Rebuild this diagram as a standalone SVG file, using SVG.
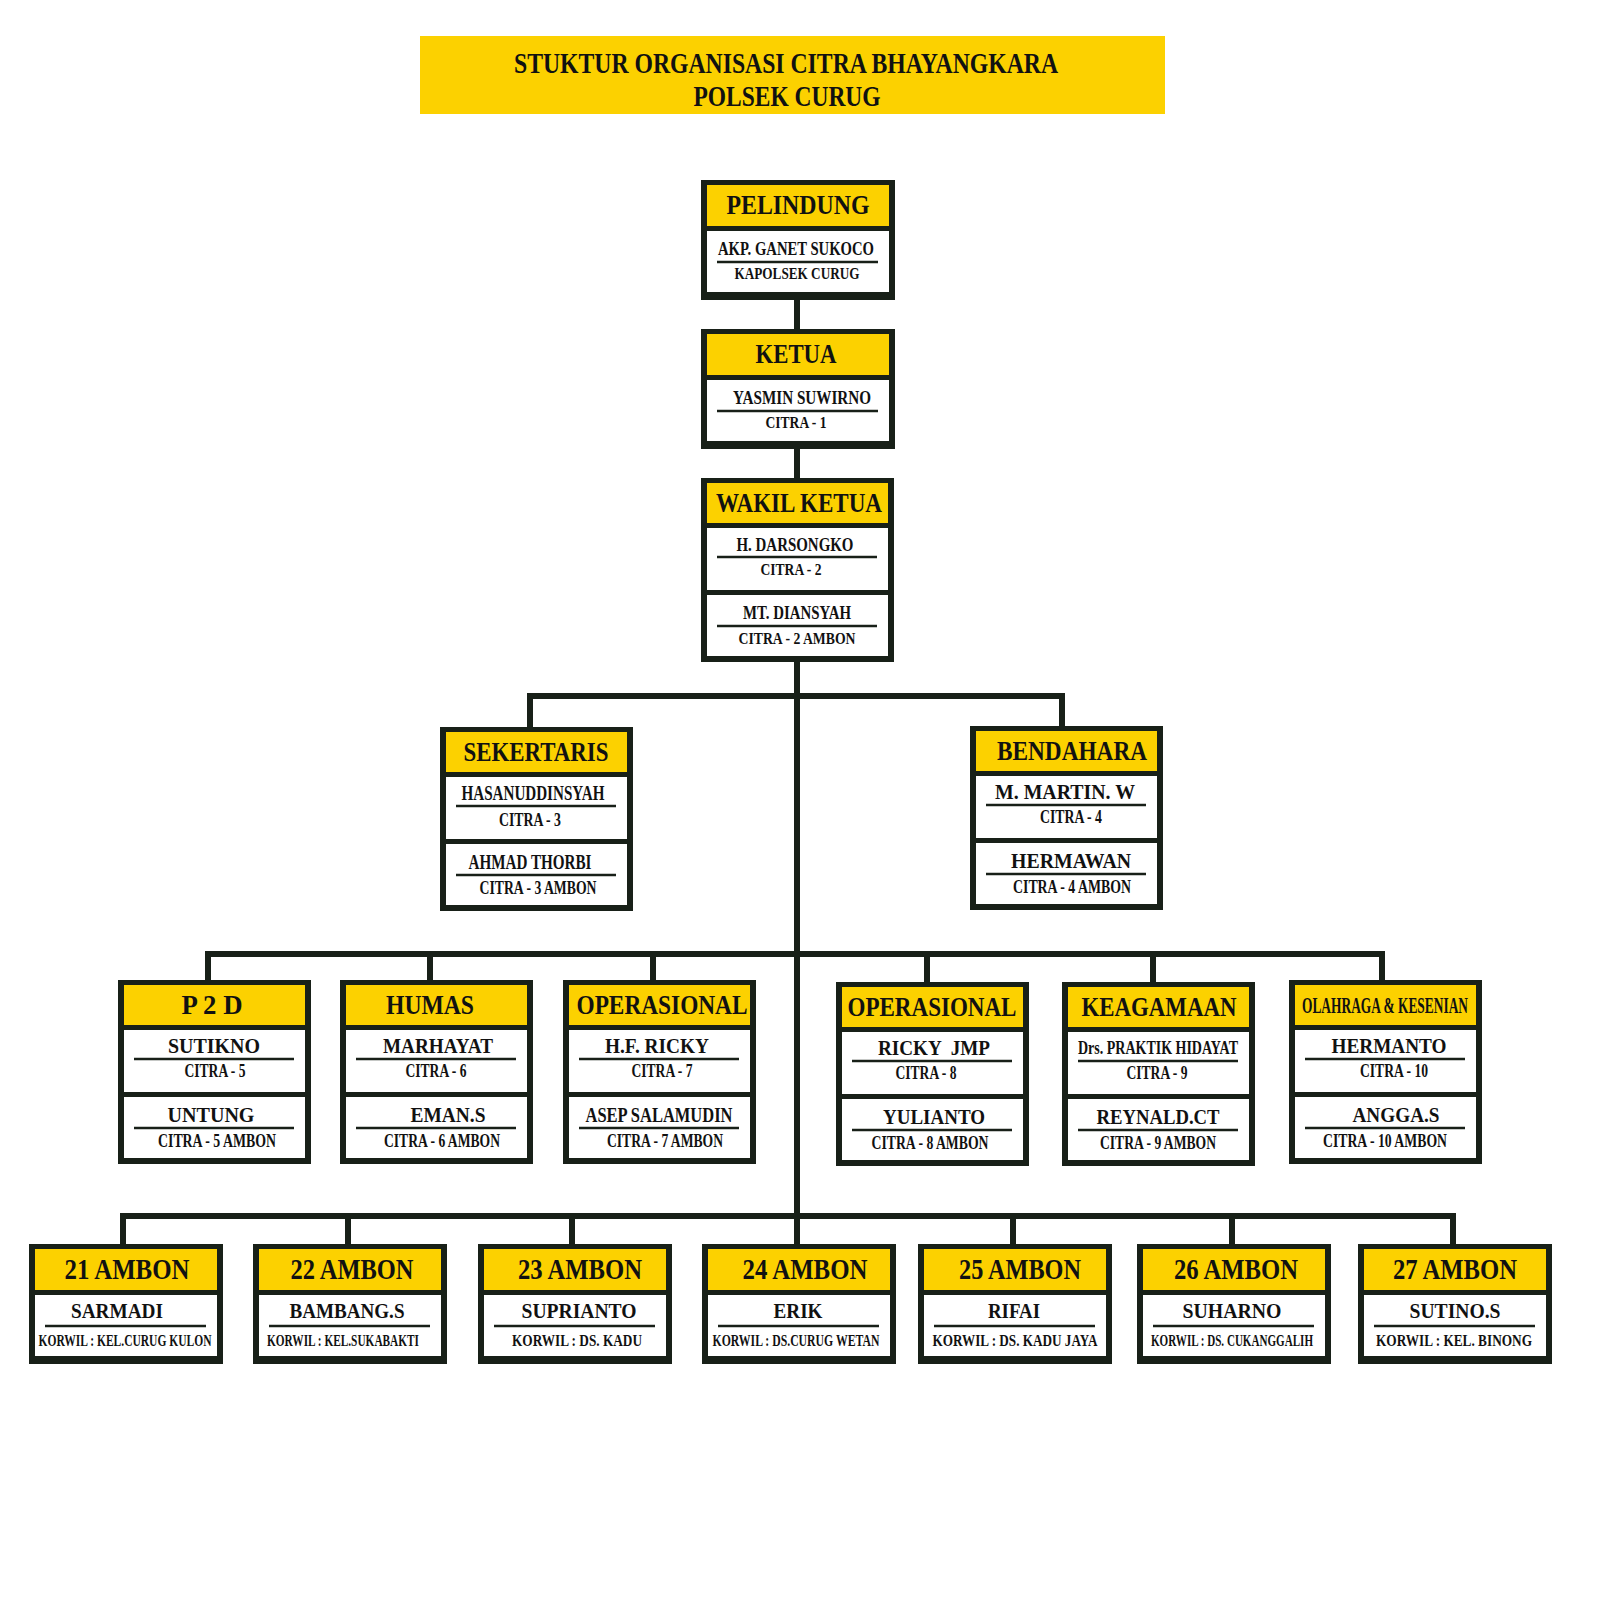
<svg xmlns="http://www.w3.org/2000/svg" width="1600" height="1600" viewBox="0 0 1600 1600">
<style>
.ob{fill:#182018}
.hd{fill:#fcd100}
.wt{fill:#ffffff}
.ul{stroke:#182018;stroke-width:2.5}
.cn{stroke:#182018;stroke-width:6;fill:none;stroke-linecap:square}
text{font-family:"Liberation Serif","Times New Roman",serif;font-weight:bold;fill:#111;text-anchor:middle}
.t{font-size:30px}
.h{font-size:28px}
.hb{font-size:29px}
.h2{font-size:23px}
.n{font-size:19px}
.s{font-size:16px}
.n2{font-size:21px}
.nb{font-size:20px}
.s2{font-size:18px}
.k{font-size:17px}
</style>
<rect width="1600" height="1600" fill="#ffffff"/>
<g id="title">
<rect x="420" y="36" width="745" height="78" fill="#fcd100"/>
<text class="t" x="786" y="73" textLength="544" lengthAdjust="spacingAndGlyphs">STUKTUR ORGANISASI CITRA BHAYANGKARA</text>
<text class="t" x="787" y="106" textLength="187" lengthAdjust="spacingAndGlyphs">POLSEK CURUG</text>
</g>
<g id="connectors">
<line class="cn" x1="797" y1="300" x2="797" y2="329"/>
<line class="cn" x1="797" y1="449" x2="797" y2="478"/>
<line class="cn" x1="797" y1="663" x2="797" y2="1216"/>
<polyline class="cn" points="530,727 530,696 1062,696 1062,726"/>
<line class="cn" x1="208" y1="954" x2="1382" y2="954"/>
<line class="cn" x1="208" y1="954" x2="208" y2="980"/>
<line class="cn" x1="430" y1="954" x2="430" y2="980"/>
<line class="cn" x1="653" y1="954" x2="653" y2="980"/>
<line class="cn" x1="927" y1="954" x2="927" y2="982"/>
<line class="cn" x1="1153" y1="954" x2="1153" y2="982"/>
<line class="cn" x1="1382" y1="954" x2="1382" y2="980"/>
<line class="cn" x1="123" y1="1216" x2="1453" y2="1216"/>
<line class="cn" x1="123" y1="1216" x2="123" y2="1244"/>
<line class="cn" x1="348" y1="1216" x2="348" y2="1244"/>
<line class="cn" x1="572" y1="1216" x2="572" y2="1244"/>
<line class="cn" x1="797" y1="1216" x2="797" y2="1244"/>
<line class="cn" x1="1013" y1="1216" x2="1013" y2="1244"/>
<line class="cn" x1="1232" y1="1216" x2="1232" y2="1244"/>
<line class="cn" x1="1453" y1="1216" x2="1453" y2="1244"/>
</g>
<defs>
<g id="boxA">
<rect class="ob" width="194" height="120"/>
<rect class="hd" x="6" y="5" width="182" height="41"/>
<rect class="wt" x="6" y="51" width="182" height="61"/>
<line class="ul" x1="16" x2="177" y1="82" y2="82"/>
</g>
<g id="boxB">
<rect class="ob" width="193" height="184"/>
<rect class="hd" x="6" y="5" width="181" height="40"/>
<rect class="wt" x="6" y="50" width="181" height="62"/>
<rect class="wt" x="6" y="117" width="181" height="61"/>
<line class="ul" x1="16" x2="176" y1="79" y2="79"/>
<line class="ul" x1="16" x2="176" y1="148" y2="148"/>
</g>
</defs>
<g id="pelindung" transform="translate(701,180)">
<use href="#boxA"/>
<text class="h" x="97" y="34" textLength="143" lengthAdjust="spacingAndGlyphs">PELINDUNG</text>
<text class="n" x="95" y="75" textLength="156" lengthAdjust="spacingAndGlyphs">AKP. GANET SUKOCO</text>
<text class="s" x="96" y="99" textLength="125" lengthAdjust="spacingAndGlyphs">KAPOLSEK CURUG</text>
</g>
<g id="ketua" transform="translate(701,329)">
<use href="#boxA"/>
<text class="h" x="95" y="34" textLength="81" lengthAdjust="spacingAndGlyphs">KETUA</text>
<text class="n" x="101" y="75" textLength="138" lengthAdjust="spacingAndGlyphs">YASMIN SUWIRNO</text>
<text class="s" x="95" y="99" textLength="61" lengthAdjust="spacingAndGlyphs">CITRA - 1</text>
</g>
<g id="wakil" transform="translate(701,478)">
<use href="#boxB"/>
<text class="h" x="98" y="34" textLength="166" lengthAdjust="spacingAndGlyphs">WAKIL KETUA</text>
<text class="n" x="94" y="73" textLength="117" lengthAdjust="spacingAndGlyphs">H. DARSONGKO</text>
<text class="s" x="90" y="97" textLength="61" lengthAdjust="spacingAndGlyphs">CITRA - 2</text>
<text class="n" x="96" y="141" textLength="108" lengthAdjust="spacingAndGlyphs">MT. DIANSYAH</text>
<text class="s" x="96" y="166" textLength="117" lengthAdjust="spacingAndGlyphs">CITRA - 2 AMBON</text>
</g>
<g id="sekertaris" transform="translate(440,727)">
<use href="#boxB"/>
<text class="h" x="96" y="34" textLength="145" lengthAdjust="spacingAndGlyphs">SEKERTARIS</text>
<text class="n2" x="93" y="73" textLength="143" lengthAdjust="spacingAndGlyphs">HASANUDDINSYAH</text>
<text class="s2" x="90" y="99" textLength="62" lengthAdjust="spacingAndGlyphs">CITRA - 3</text>
<text class="n2" x="90" y="142" textLength="123" lengthAdjust="spacingAndGlyphs">AHMAD THORBI</text>
<text class="s2" x="98" y="167" textLength="117" lengthAdjust="spacingAndGlyphs">CITRA - 3 AMBON</text>
</g>
<g id="bendahara" transform="translate(970,726)">
<use href="#boxB"/>
<text class="h" x="102" y="34" textLength="150" lengthAdjust="spacingAndGlyphs">BENDAHARA</text>
<text class="n2" x="95" y="73" textLength="140" lengthAdjust="spacingAndGlyphs">M. MARTIN. W</text>
<text class="s2" x="101" y="97" textLength="62" lengthAdjust="spacingAndGlyphs">CITRA - 4</text>
<text class="n2" x="101" y="142" textLength="120" lengthAdjust="spacingAndGlyphs">HERMAWAN</text>
<text class="s2" x="102" y="167" textLength="118" lengthAdjust="spacingAndGlyphs">CITRA - 4 AMBON</text>
</g>
<g id="p2d" transform="translate(118,980)">
<use href="#boxB"/>
<text class="h" x="94" y="34" textLength="61" lengthAdjust="spacingAndGlyphs">P 2 D</text>
<text class="n2" x="96" y="73" textLength="92" lengthAdjust="spacingAndGlyphs">SUTIKNO</text>
<text class="s2" x="97" y="97" textLength="61" lengthAdjust="spacingAndGlyphs">CITRA - 5</text>
<text class="n2" x="93" y="142" textLength="87" lengthAdjust="spacingAndGlyphs">UNTUNG</text>
<text class="s2" x="99" y="167" textLength="118" lengthAdjust="spacingAndGlyphs">CITRA - 5 AMBON</text>
</g>
<g id="humas" transform="translate(340,980)">
<use href="#boxB"/>
<text class="h" x="90" y="34" textLength="88" lengthAdjust="spacingAndGlyphs">HUMAS</text>
<text class="n2" x="98" y="73" textLength="110" lengthAdjust="spacingAndGlyphs">MARHAYAT</text>
<text class="s2" x="96" y="97" textLength="61" lengthAdjust="spacingAndGlyphs">CITRA - 6</text>
<text class="n2" x="108" y="142" textLength="75" lengthAdjust="spacingAndGlyphs">EMAN.S</text>
<text class="s2" x="102" y="167" textLength="116" lengthAdjust="spacingAndGlyphs">CITRA - 6 AMBON</text>
</g>
<g id="operasional1" transform="translate(563,980)">
<use href="#boxB"/>
<text class="h" x="99" y="34" textLength="171" lengthAdjust="spacingAndGlyphs">OPERASIONAL</text>
<text class="n2" x="94" y="73" textLength="104" lengthAdjust="spacingAndGlyphs">H.F. RICKY</text>
<text class="s2" x="99" y="97" textLength="61" lengthAdjust="spacingAndGlyphs">CITRA - 7</text>
<text class="n2" x="96" y="142" textLength="147" lengthAdjust="spacingAndGlyphs">ASEP SALAMUDIN</text>
<text class="s2" x="102" y="167" textLength="116" lengthAdjust="spacingAndGlyphs">CITRA - 7 AMBON</text>
</g>
<g id="operasional2" transform="translate(836,982)">
<use href="#boxB"/>
<text class="h" x="96" y="34" textLength="169" lengthAdjust="spacingAndGlyphs">OPERASIONAL</text>
<text class="n2" x="98" y="73" textLength="112" lengthAdjust="spacingAndGlyphs" xml:space="preserve">RICKY  JMP</text>
<text class="s2" x="90" y="97" textLength="61" lengthAdjust="spacingAndGlyphs">CITRA - 8</text>
<text class="n2" x="98" y="142" textLength="102" lengthAdjust="spacingAndGlyphs">YULIANTO</text>
<text class="s2" x="94" y="167" textLength="117" lengthAdjust="spacingAndGlyphs">CITRA - 8 AMBON</text>
</g>
<g id="keagamaan" transform="translate(1062,982)">
<use href="#boxB"/>
<text class="h" x="97" y="34" textLength="155" lengthAdjust="spacingAndGlyphs">KEAGAMAAN</text>
<text class="s2" x="96" y="72" textLength="160" lengthAdjust="spacingAndGlyphs">Drs. PRAKTIK HIDAYAT</text>
<text class="s2" x="95" y="97" textLength="61" lengthAdjust="spacingAndGlyphs">CITRA - 9</text>
<text class="n2" x="96" y="142" textLength="123" lengthAdjust="spacingAndGlyphs">REYNALD.CT</text>
<text class="s2" x="96" y="167" textLength="116" lengthAdjust="spacingAndGlyphs">CITRA - 9 AMBON</text>
</g>
<g id="olahraga" transform="translate(1289,980)">
<use href="#boxB"/>
<text class="h2" x="96" y="33" textLength="166" lengthAdjust="spacingAndGlyphs">OLAHRAGA &amp; KESENIAN</text>
<text class="n2" x="100" y="73" textLength="115" lengthAdjust="spacingAndGlyphs">HERMANTO</text>
<text class="s2" x="105" y="97" textLength="68" lengthAdjust="spacingAndGlyphs">CITRA - 10</text>
<text class="n2" x="107" y="142" textLength="87" lengthAdjust="spacingAndGlyphs">ANGGA.S</text>
<text class="s2" x="96" y="167" textLength="124" lengthAdjust="spacingAndGlyphs">CITRA - 10 AMBON</text>
</g>
<g id="ambon21" transform="translate(29,1244)">
<use href="#boxA"/>
<text class="hb" x="98" y="35" textLength="125" lengthAdjust="spacingAndGlyphs">21 AMBON</text>
<text class="nb" x="88" y="74" textLength="92" lengthAdjust="spacingAndGlyphs">SARMADI</text>
<text class="k" x="96" y="102" textLength="173" lengthAdjust="spacingAndGlyphs">KORWIL : KEL.CURUG KULON</text>
</g>
<g id="ambon22" transform="translate(253,1244)">
<use href="#boxA"/>
<text class="hb" x="99" y="35" textLength="123" lengthAdjust="spacingAndGlyphs">22 AMBON</text>
<text class="nb" x="94" y="74" textLength="115" lengthAdjust="spacingAndGlyphs">BAMBANG.S</text>
<text class="k" x="90" y="102" textLength="152" lengthAdjust="spacingAndGlyphs">KORWIL : KEL.SUKABAKTI</text>
</g>
<g id="ambon23" transform="translate(478,1244)">
<use href="#boxA"/>
<text class="hb" x="102" y="35" textLength="124" lengthAdjust="spacingAndGlyphs">23 AMBON</text>
<text class="nb" x="101" y="74" textLength="115" lengthAdjust="spacingAndGlyphs">SUPRIANTO</text>
<text class="k" x="99" y="102" textLength="130" lengthAdjust="spacingAndGlyphs">KORWIL : DS. KADU</text>
</g>
<g id="ambon24" transform="translate(702,1244)">
<use href="#boxA"/>
<text class="hb" x="103" y="35" textLength="125" lengthAdjust="spacingAndGlyphs">24 AMBON</text>
<text class="nb" x="96" y="74" textLength="49" lengthAdjust="spacingAndGlyphs">ERIK</text>
<text class="k" x="94" y="102" textLength="167" lengthAdjust="spacingAndGlyphs">KORWIL : DS.CURUG WETAN</text>
</g>
<g id="ambon25" transform="translate(918,1244)">
<use href="#boxA"/>
<text class="hb" x="102" y="35" textLength="122" lengthAdjust="spacingAndGlyphs">25 AMBON</text>
<text class="nb" x="96" y="74" textLength="52" lengthAdjust="spacingAndGlyphs">RIFAI</text>
<text class="k" x="97" y="102" textLength="165" lengthAdjust="spacingAndGlyphs">KORWIL : DS. KADU JAYA</text>
</g>
<g id="ambon26" transform="translate(1137,1244)">
<use href="#boxA"/>
<text class="hb" x="99" y="35" textLength="124" lengthAdjust="spacingAndGlyphs">26 AMBON</text>
<text class="nb" x="95" y="74" textLength="99" lengthAdjust="spacingAndGlyphs">SUHARNO</text>
<text class="k" x="95" y="102" textLength="162" lengthAdjust="spacingAndGlyphs">KORWIL : DS. CUKANGGALIH</text>
</g>
<g id="ambon27" transform="translate(1358,1244)">
<use href="#boxA"/>
<text class="hb" x="97" y="35" textLength="124" lengthAdjust="spacingAndGlyphs">27 AMBON</text>
<text class="nb" x="97" y="74" textLength="91" lengthAdjust="spacingAndGlyphs">SUTINO.S</text>
<text class="k" x="96" y="102" textLength="156" lengthAdjust="spacingAndGlyphs">KORWIL : KEL. BINONG</text>
</g>
</svg>
